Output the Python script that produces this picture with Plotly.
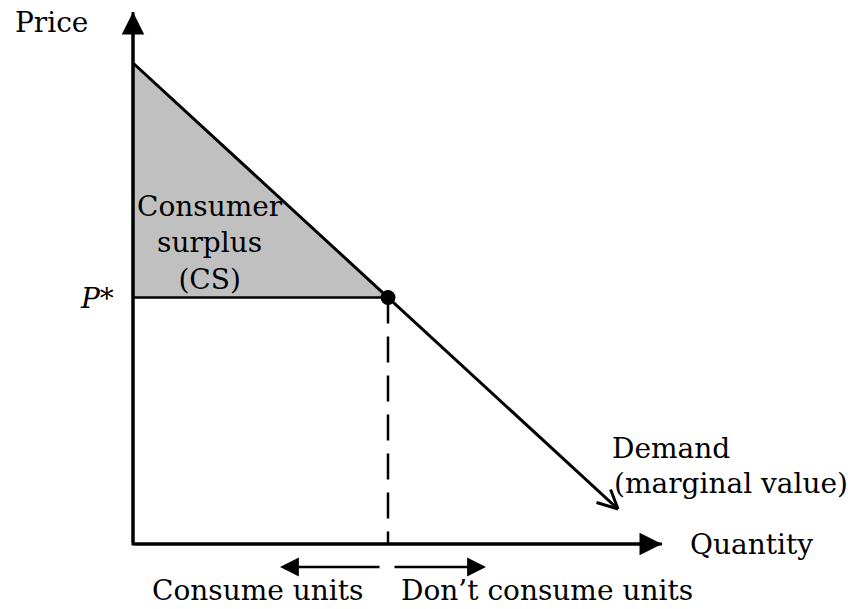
import plotly.graph_objects as go

# ---- data ----
quantity_star = 5.1
price_star = 4.93
demand_q = [0.0, 5.1, 9.7]
demand_p = [9.62, 4.93, 0.70]
axis_end_q = 10.58
axis_end_p = 10.64
surplus_q = [0.0, 0.0, quantity_star]
surplus_p = [price_star, demand_p[0], price_star]
consume_arrow_q = [4.96, 2.94]      # tail, tip
dont_consume_arrow_q = [5.20, 7.06]  # tail, tip
arrow_row_p = -0.46

# ---- styling ----
FONT = dict(family="DejaVu Serif", size=28, color="black")
BLACK = "black"

fig = go.Figure()

# consumer surplus area
fig.add_trace(go.Scatter(x=surplus_q, y=surplus_p, mode="lines", fill="toself",
                         fillcolor="#c0c0c0", line=dict(width=0), hoverinfo="skip"))
# axes
fig.add_trace(go.Scatter(x=[0, 0, axis_end_q], y=[axis_end_p, 0, 0], mode="lines",
                         line=dict(color=BLACK, width=3), hoverinfo="skip"))
# P* line
fig.add_trace(go.Scatter(x=[0, quantity_star], y=[price_star, price_star], mode="lines",
                         line=dict(color=BLACK, width=2.5), hoverinfo="skip"))
# dashed Q* line
fig.add_trace(go.Scatter(x=[quantity_star, quantity_star], y=[price_star, 0], mode="lines",
                         line=dict(color=BLACK, width=2.5, dash="26px,13px"), hoverinfo="skip"))
# demand curve
fig.add_trace(go.Scatter(x=demand_q, y=demand_p, mode="lines",
                         line=dict(color=BLACK, width=3), hoverinfo="skip"))
# equilibrium point
fig.add_trace(go.Scatter(x=[quantity_star], y=[price_star], mode="markers",
                         marker=dict(color=BLACK, size=15), hoverinfo="skip"))

ann = []
# axis arrowheads
ann.append(dict(x=0, y=axis_end_p, ax=0, ay=0, xref="x", yref="y", axref="x", ayref="y",
                showarrow=True, arrowhead=2, arrowsize=1.5, arrowwidth=3, arrowcolor=BLACK, text=""))
ann.append(dict(x=axis_end_q, y=0, ax=0, ay=0, xref="x", yref="y", axref="x", ayref="y",
                showarrow=True, arrowhead=2, arrowsize=1.5, arrowwidth=3, arrowcolor=BLACK, text=""))
# demand open arrowhead: two short barbs (pixel offsets) at the tip
for bx, by in [(-23, -7), (-8, -21)]:
    ann.append(dict(x=demand_q[-1], y=demand_p[-1], ax=bx, ay=by, xref="x", yref="y",
                    showarrow=True, arrowhead=0, arrowwidth=3, arrowcolor=BLACK, text="",
                    standoff=0, startstandoff=0))
# consume / don't consume arrows
ann.append(dict(x=consume_arrow_q[1], y=arrow_row_p, ax=consume_arrow_q[0], ay=arrow_row_p,
                xref="x", yref="y", axref="x", ayref="y",
                showarrow=True, arrowhead=2, arrowsize=1.4, arrowwidth=2.7, arrowcolor=BLACK, text=""))
ann.append(dict(x=dont_consume_arrow_q[1], y=arrow_row_p, ax=dont_consume_arrow_q[0], ay=arrow_row_p,
                xref="x", yref="y", axref="x", ayref="y",
                showarrow=True, arrowhead=2, arrowsize=1.4, arrowwidth=2.7, arrowcolor=BLACK, text=""))

def label(text, x, y, xanchor="center", align="center"):
    ann.append(dict(text=text, x=x, y=y, xref="x", yref="y", showarrow=False,
                    xanchor=xanchor, yanchor="middle", align=align, font=FONT))

label("Price", -1.64, 10.44)
label("Quantity", 11.1, 0.0, "left")
label("<i>P</i>*", -0.34, 4.92, "right")
label("Consumer<br>surplus<br>(CS)", 1.54, 6.02)
label("Demand", 9.54, 1.92, "left")
label("(marginal value)", 9.58, 1.22, "left")
label("Consume units", 0.34, -0.93, "left")
label("Don\u2019t consume units", 5.32, -0.93, "left")

fig.update_layout(
    width=848, height=609,
    margin=dict(l=0, r=0, t=0, b=0),
    paper_bgcolor="white", plot_bgcolor="white",
    showlegend=False,
    xaxis=dict(range=[-2.66, 14.3], visible=False, fixedrange=True),
    yaxis=dict(range=[-1.3, 10.88], visible=False, fixedrange=True),
    annotations=ann,
)

fig.write_html("out.html", config={"displayModeBar": False},
               post_script="document.body.style.margin='0';document.body.style.overflow='hidden';")
